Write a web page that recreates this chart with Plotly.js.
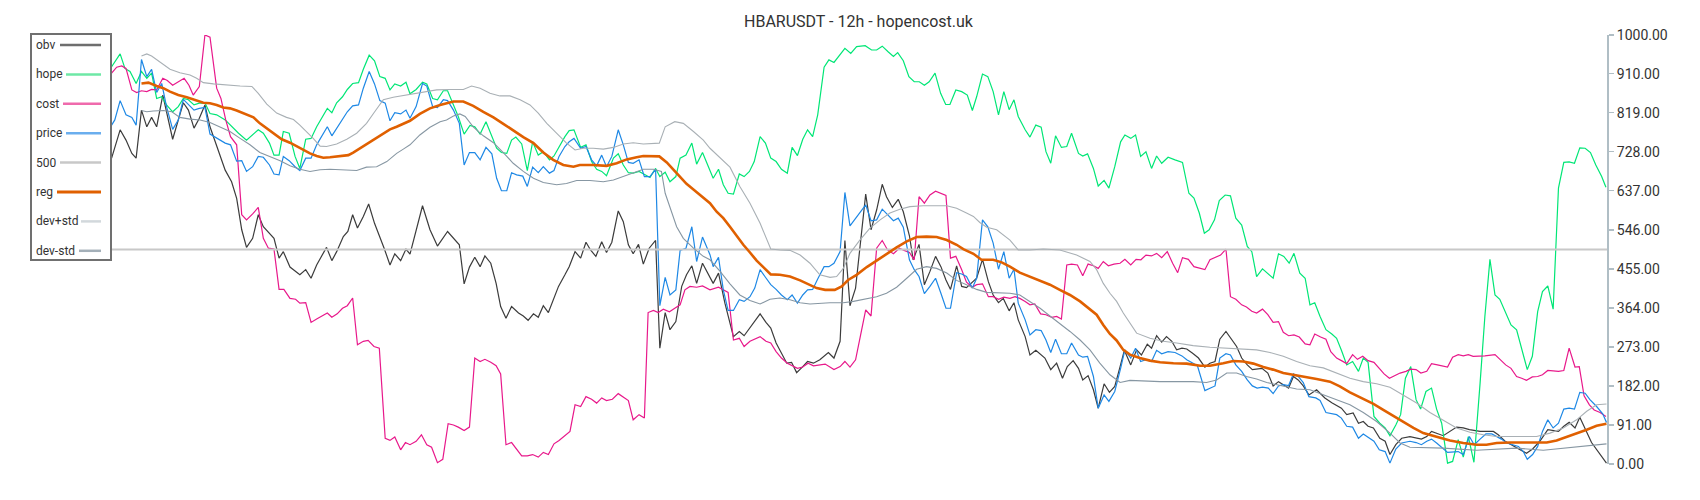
<!DOCTYPE html>
<html><head><meta charset="utf-8">
<script src="https://cdn.plot.ly/plotly-3.0.1.min.js"></script>
<style>html,body{margin:0;padding:0;background:#fff;} #chart{width:1700px;height:500px;}</style>
</head><body><div id="chart"></div>
<script>
// ---- data: [candle index, value] ----
const seriesNames = ['obv','hope','cost','price','500','reg','dev+std','dev-std'];

const obv = [[0.3,713],[0.9,736],[1.9,779],[3,755],[4.1,724],[4.9,713],[5.9,825],[6.9,786],[7.8,808],[8.75,786],[9.9,860],[11.75,757],[12.8,802],[13.75,842],[14.7,825],[15.75,783],[16.75,806],[17.8,837],[18.75,786],[20,740],[21.6,685],[22.8,658],[23.75,619],[24.7,546],[25.6,505],[26.75,526],[27.8,581],[28.75,553],[29.9,538],[30.75,526],[31.7,480],[32.5,495],[33.75,459],[35.6,441],[36.7,453],[37.7,433],[38.75,464],[40.6,505],[41.6,474],[42.5,495],[43.75,530],[44.6,542],[45.5,581],[46.4,550],[47.5,577],[48.5,606],[49.6,561],[50.6,530],[51.4,503],[52.5,464],[53.4,490],[54.5,474],[55.5,501],[56.25,489],[58.6,602],[60,546],[61.4,508],[63.3,542],[65.5,511],[66.4,420],[67.4,459],[68.4,482],[69.4,460],[70.3,485],[71.4,468],[72.4,421],[73.25,367],[74.25,340],[75.3,367],[76.6,352],[77.5,345],[78.4,335],[79.4,350],[80.3,342],[81.25,369],[82.2,353],[84.1,414],[85.3,441],[86.1,460],[87.2,495],[88.25,480],[89.25,517],[90.1,499],[91.1,484],[92.2,518],[93.1,493],[94.1,517],[95.3,590],[96.25,565],[97.2,511],[98.1,490],[99.1,512],[100,466],[101.1,503],[102.3,521],[103.1,270],[104.1,353],[105,313],[106.1,332],[107.2,414],[108.1,441],[109.1,462],[110,421],[111.1,468],[112.5,437],[113.1,421],[114.1,445],[115.3,375],[116.9,297],[118,309],[118.9,299],[121.9,350],[123,330],[123.9,317],[124.9,282],[125.9,258],[126.9,235],[127.8,237],[128.75,213],[129.9,227],[130.8,239],[131.9,235],[133.1,243],[134.7,260],[135.75,247],[136.9,286],[137.8,521],[138.75,369],[139.8,410],[141.7,629],[142.7,546],[143.75,592],[144.8,652],[145.6,623],[146.7,598],[147.8,617],[148.75,588],[149.9,532],[150.6,476],[151.7,512],[152.7,418],[153.75,449],[154.8,484],[155.8,460],[156.75,429],[157.6,407],[158.75,462],[159.7,414],[160.6,411],[162.5,433],[163.6,477],[164.7,425],[165.6,394],[166.6,376],[167.5,386],[168.6,357],[169.5,376],[170.3,336],[171.6,297],[172.5,254],[173.6,265],[175.3,247],[176.4,220],[177.5,235],[178.6,200],[179.5,227],[180.6,241],[181.6,223],[182.4,196],[183.4,206],[184.4,173],[185.3,130],[186.4,187],[187.4,167],[188.4,181],[189.25,220],[190.2,265],[191.4,231],[192.5,266],[193.4,254],[194.5,279],[195.3,270],[196.25,299],[197.2,284],[198.1,297],[199.1,286],[200,266],[201,270],[201.9,268],[203,258],[204.1,247],[205.3,226],[206.25,235],[207.2,239],[208.1,291],[209.25,309],[210.3,289],[211.25,274],[212.2,247],[213.25,231],[214.2,220],[216,223],[217.1,212],[218.1,182],[219.1,192],[220,185],[221,177],[221.9,204],[222.8,196],[223.75,182],[224.8,161],[226.25,173],[227.8,154],[229.1,143],[230.9,130],[231.9,115],[233.1,119],[234.1,95],[235,99],[235.9,88],[236.9,84],[238.1,60],[239.1,53],[240,22],[241.1,45],[242.2,60],[243.75,64],[245.9,58],[246.9,64],[247.8,76],[250,66],[252.5,86],[253.75,84],[254.9,80],[256.9,76],[259.4,76],[260.3,68],[261.6,53],[262.8,45],[264.1,37],[265.6,25],[266.75,35],[268.1,53],[269.6,80],[271.6,76],[272.6,88],[273.6,97],[274.7,84],[275.6,109],[277.8,50],[279.1,29],[280.6,2]];

const hope = [[0.3,926],[0.9,938],[1.9,956],[2.8,922],[3.75,915],[4.9,887],[5.9,915],[6.9,899],[7.8,911],[8.75,852],[9.7,856],[10.6,837],[11.75,821],[12.8,833],[13.75,852],[14.7,849],[15.75,837],[16.75,841],[17.8,842],[18.75,817],[20,814],[21.6,802],[22.8,786],[24.1,771],[25.6,755],[27.8,779],[28.75,771],[29.9,748],[30.75,720],[31.7,720],[32.5,775],[33.6,771],[34.7,717],[35.6,689],[36.7,757],[37.7,759],[38.75,786],[39.7,808],[40.75,829],[41.6,819],[42.5,842],[43.6,856],[44.5,873],[45.5,887],[46.6,889],[47.5,920],[48.6,953],[49.6,940],[50.6,903],[51.6,899],[52.5,872],[53.4,886],[54.5,881],[55.5,890],[56.25,863],[57.4,873],[58.6,890],[59.4,886],[60.5,852],[61.4,849],[62.5,870],[63.3,870],[65.3,810],[66.4,769],[67.5,789],[68.4,786],[69.4,769],[70.5,798],[71.6,765],[72.5,736],[73.4,726],[74.4,724],[75.3,755],[76.1,762],[77.2,746],[78.25,684],[79.25,751],[80.3,720],[81.25,728],[82.4,709],[83.25,718],[84.2,740],[85.3,763],[86.1,777],[87,779],[88.25,738],[89.25,744],[90.3,705],[91.25,687],[92.2,682],[93.1,672],[94.4,713],[95.3,723],[96.25,697],[97.2,679],[98.1,678],[99.2,682],[101.25,668],[102.3,689],[103.1,670],[104.1,680],[105,658],[106.1,670],[106.9,713],[108,720],[109.1,748],[110,699],[111.1,726],[112.5,685],[113.1,666],[114.1,687],[115,651],[115.9,631],[116.9,629],[118,676],[118.9,670],[119.9,682],[120.8,705],[121.9,763],[122.9,748],[123.9,713],[124.9,705],[125.9,687],[127,678],[127.9,738],[128.9,719],[129.9,757],[130.8,779],[131.75,763],[132.7,814],[133.9,925],[134.8,942],[135.75,936],[136.9,953],[137.8,969],[138.9,957],[140,973],[141.6,975],[142.8,965],[143.75,965],[144.8,974],[145.9,961],[146.9,950],[147.7,959],[148.75,940],[149.8,903],[150.8,891],[151.75,891],[152.7,883],[153.6,891],[154.7,911],[155.75,864],[156.7,838],[157.5,838],[158.6,872],[159.7,868],[160.75,860],[161.7,824],[162.5,856],[163.6,909],[164.6,903],[165.6,868],[166.6,814],[167.6,868],[168.6,826],[169.5,849],[170.3,810],[171.6,779],[172.5,762],[173.6,790],[174.6,785],[175.5,728],[176.4,701],[177.3,765],[178.4,738],[179.4,740],[180.3,771],[181.6,724],[182.4,718],[183.3,723],[184.4,689],[185.3,648],[186.4,661],[187.3,643],[188.4,693],[189.5,751],[190.3,767],[191.4,759],[192.3,767],[193.25,717],[194.25,728],[195.3,689],[196.25,718],[197.2,701],[198.4,715],[199.7,709],[201.1,703],[202.3,631],[203.25,620],[204.25,585],[205.2,538],[206.1,546],[207.1,569],[208,614],[209.1,627],[210.1,625],[211.1,573],[212.2,557],[213.25,507],[214.1,495],[215,437],[216.1,455],[217.2,442],[218.1,433],[219.1,490],[220.1,484],[221.1,468],[222,491],[223.1,445],[224.1,433],[225,371],[225.9,376],[226.9,344],[228,313],[229.1,303],[230,293],[230.9,265],[231.9,231],[233,239],[234.1,216],[235,247],[235.9,237],[237,111],[238.1,95],[239.1,84],[240,66],[241.1,91],[242,115],[242.9,200],[243.9,227],[244.9,150],[245.75,128],[246.75,169],[247.8,177],[248.75,128],[249.7,95],[250.8,2],[251.75,6],[252.8,57],[253.75,16],[254.7,64],[255.75,4],[256.9,188],[257.8,344],[258.75,477],[259.7,394],[260.6,384],[261.6,355],[262.7,324],[263.75,313],[264.8,262],[265.75,220],[266.7,251],[267.7,355],[268.6,402],[269.6,415],[270.6,361],[271.6,643],[272.6,703],[273.6,704],[274.6,701],[275.6,737],[276.6,736],[277.6,726],[278.6,697],[279.7,670],[280.5,645]];

const cost = [[0.3,911],[1.25,925],[2.2,928],[3,922],[4.1,872],[5,866],[5.9,870],[6.9,868],[7.8,873],[8.75,872],[9.9,899],[10.75,894],[11.75,883],[12.8,891],[13.9,899],[14.8,883],[15.6,860],[16.75,880],[17.8,1000],[18.75,995],[20,876],[20.8,852],[21.7,802],[22.6,763],[23.75,744],[24.7,581],[25.6,569],[26.75,583],[27.8,598],[28.75,526],[29.7,503],[30.75,501],[31.7,407],[32.6,407],[33.75,386],[34.8,384],[35.6,375],[36.7,376],[37.7,330],[38.75,338],[40.75,352],[41.6,342],[42.6,350],[43.6,363],[44.5,369],[45.5,387],[46.4,278],[47.5,286],[48.4,288],[49.5,274],[50.5,270],[51.6,60],[52.5,55],[53.4,63],[54.5,33],[55.4,50],[56.25,45],[57.4,53],[58.4,68],[59.4,45],[60.3,39],[61.4,3],[62.4,11],[63.4,94],[64.4,91],[65.3,86],[66.4,78],[67.4,86],[68.4,247],[69.4,239],[70.3,244],[71.4,237],[72.4,229],[73.25,210],[74.25,45],[75.3,50],[76.25,33],[77.2,19],[78.25,19],[79.25,22],[80.3,16],[81.25,27],[82.2,22],[83.25,47],[84.2,55],[85.3,66],[86.25,76],[87.2,138],[88.25,134],[89.25,157],[90.3,151],[91.25,142],[92.2,154],[93.1,148],[94.2,151],[95.3,164],[96.25,155],[97.2,148],[98.1,103],[99.2,115],[100.2,107],[100.9,353],[101.9,358],[102.8,353],[103.75,361],[104.9,355],[105.9,363],[106.9,371],[107.8,406],[108.75,414],[110,412],[111.1,415],[112.5,406],[114.1,412],[115,406],[115.9,400],[116.9,289],[118,293],[118.9,274],[120,286],[121.9,297],[123,286],[123.9,282],[124.9,262],[125.9,247],[127,235],[128.9,223],[129.9,226],[130.9,235],[131.9,229],[134.1,233],[135.75,220],[136.9,227],[137.8,239],[138.75,226],[139.8,243],[140.75,301],[141.7,359],[142.7,345],[143.75,503],[144.8,521],[145.8,499],[146.9,490],[148,503],[148.9,498],[149.9,493],[150.8,476],[151.7,623],[152.7,608],[153.75,627],[154.8,636],[155.8,631],[156.75,626],[157.6,480],[158.6,484],[159.7,453],[160.6,424],[161.7,412],[162.5,418],[163.6,420],[164.7,390],[165.6,390],[166.6,384],[167.6,389],[168.75,386],[169.7,390],[170.6,386],[171.6,379],[172.5,371],[173.4,373],[174.5,350],[175.5,348],[176.6,342],[177.5,344],[178.4,338],[179.4,464],[180.3,466],[181.4,464],[182.4,439],[183.4,466],[184.4,462],[185.3,456],[186.25,472],[187.2,462],[188.25,466],[189.4,468],[190.3,477],[191.4,464],[192.4,477],[193.3,476],[194.25,487],[195.3,485],[196.25,491],[197.2,481],[198.25,495],[199.25,468],[200.2,446],[201.1,481],[202.2,477],[203.25,460],[204.25,456],[205.3,453],[206.25,476],[207.3,482],[208.25,487],[209.25,501],[210.1,390],[211.1,384],[212.2,371],[213.1,366],[214.1,356],[215,352],[216.1,361],[217.1,348],[218.1,330],[219.1,332],[220,307],[221,299],[222,301],[223,296],[224.1,280],[225,278],[225.9,303],[227,296],[228,291],[228.9,262],[230,247],[230.9,241],[231.9,234],[233,255],[233.9,244],[234.9,251],[235.9,241],[237,237],[238,223],[238.9,210],[239.9,200],[240.9,206],[241.9,212],[243,216],[243.9,221],[244.9,220],[245.8,212],[246.9,216],[247.8,234],[248.9,231],[250.8,226],[251.75,249],[252.8,255],[253.75,252],[254.7,255],[255.6,251],[257.8,252],[259.7,255],[260.6,244],[261.7,231],[262.7,223],[263.75,204],[264.7,200],[265.6,195],[266.7,203],[267.7,204],[268.6,208],[269.6,218],[271.6,216],[272.6,218],[273.6,270],[274.7,226],[275.5,227],[276.4,159],[277.4,138],[278.3,126],[279.4,120],[280.5,111]];

const price = [[0.3,790],[0.9,802],[1.9,847],[3,814],[4.1,808],[4.9,790],[5.9,943],[6.9,903],[7.8,920],[8.75,866],[9.7,887],[10.6,833],[11.75,780],[12.8,802],[13.75,850],[14.7,839],[15.75,825],[16.75,829],[17.8,831],[18.75,769],[20,759],[21.6,748],[22.6,744],[23.75,706],[24.7,707],[25.6,682],[26.75,693],[27.8,717],[28.75,715],[29.9,697],[30.75,676],[31.7,674],[32.5,717],[33.6,707],[34.7,693],[35.6,684],[36.7,713],[37.7,713],[38.75,744],[40.75,786],[41.6,765],[42.5,783],[43.6,806],[44.5,821],[45.5,835],[46.6,837],[47.5,876],[48.6,915],[49.6,886],[50.6,847],[51.6,841],[52.5,800],[53.4,819],[54.5,816],[55.5,825],[56.25,806],[57.4,833],[58.6,887],[59.4,881],[60.5,833],[61.4,831],[62.5,849],[63.3,847],[64.4,825],[65.5,794],[66.4,697],[67.4,726],[68.4,726],[69.4,709],[70.5,738],[71.6,723],[72.5,666],[73.4,637],[74.4,637],[75.3,679],[76.25,674],[77.4,671],[78.25,647],[79.25,692],[80.3,679],[81.25,693],[82.4,678],[83.25,684],[84.2,717],[85.3,740],[86.1,751],[87,759],[88.25,736],[89.25,740],[90.3,709],[91.25,695],[92.2,720],[93.1,693],[94.1,717],[95.3,779],[96.25,744],[97.2,703],[98.1,701],[99.2,709],[100.2,670],[101.25,670],[102.3,687],[103.1,369],[104.1,435],[105,394],[106.1,406],[106.9,498],[108,503],[109.1,553],[110,472],[111.1,529],[112.5,488],[113.1,460],[114.1,482],[115,406],[115.9,358],[116.9,358],[118,383],[118.9,379],[120,390],[120.9,410],[121.9,453],[122.8,437],[123.9,418],[124.9,407],[125.9,394],[127,383],[127.9,394],[128.9,375],[129.9,394],[130.8,406],[131.75,407],[132.7,431],[133.9,460],[134.8,460],[135.75,468],[136.9,495],[137.8,633],[138.75,555],[139.8,573],[140.75,588],[141.7,604],[142.7,567],[143.75,569],[144.8,594],[145.8,581],[146.9,567],[147.8,573],[148.75,552],[149.9,476],[150.8,453],[151.7,437],[152.7,397],[153.75,414],[154.8,433],[155.8,398],[156.75,363],[157.6,363],[158.75,446],[159.7,443],[160.6,437],[161.7,410],[162.5,433],[163.6,569],[164.6,553],[165.6,515],[166.6,454],[167.6,495],[168.6,433],[169.5,454],[170.3,375],[171.6,336],[172.5,301],[173.6,313],[174.6,311],[175.5,289],[176.4,260],[177.3,291],[178.4,257],[179.4,257],[180.3,282],[181.6,254],[182.4,249],[183.3,251],[184.4,204],[185.3,130],[186.4,161],[187.3,146],[188.4,169],[189.5,223],[190.3,266],[191.4,247],[192.3,270],[193.25,239],[194.25,243],[195.3,239],[196.25,265],[197.2,257],[198.4,262],[199.7,260],[201,252],[201.9,243],[203,235],[203.9,229],[205.3,171],[206.25,177],[207.2,182],[208.1,247],[209.25,257],[210.1,254],[211.1,231],[212.2,216],[213.25,196],[214.2,182],[215.1,177],[216.1,179],[217.2,177],[218.1,164],[219.1,182],[220,185],[221,183],[221.9,210],[222.8,204],[223.75,190],[224.8,157],[226.1,154],[226.9,148],[228,120],[229.1,117],[230,115],[230.9,107],[231.9,88],[233,86],[234.1,60],[235,70],[235.9,63],[237,53],[238,33],[239.1,29],[240,2],[241.1,35],[242.2,49],[243.75,53],[244.9,50],[245.9,45],[246.9,53],[247.8,58],[248.75,49],[250,35],[250.8,27],[252.8,29],[253.75,22],[254.9,64],[255.8,45],[256.9,58],[258,70],[259.1,70],[260,64],[260.9,58],[261.9,49],[263,45],[264.1,41],[265,29],[265.75,11],[266.75,22],[267.7,41],[268.6,76],[269.6,103],[270.6,84],[271.6,95],[272.6,128],[273.6,130],[274.6,128],[275.6,167],[276.6,165],[277.5,150],[278.75,134],[279.9,117],[280.6,97]];

const level500 = [[0,500],[280.7,500]];

const reg = [[5.9,887],[7.2,889],[8.75,881],[10,876],[11.25,868],[12.8,860],[14.4,855],[15.9,849],[17.5,842],[18.75,841],[20,837],[21.25,831],[22.5,829],[23.75,824],[25,817],[26.9,808],[28.1,794],[29.7,780],[30.9,769],[32.2,757],[33.75,749],[35,741],[36.25,732],[37.5,724],[38.75,718],[40,714],[41.25,715],[43.1,717],[44.7,720],[45.6,726],[46.9,736],[48.4,748],[49.7,759],[51.25,771],[52.5,780],[53.75,786],[55,793],[56.25,800],[58.1,816],[60,829],[61.9,837],[64.4,845],[66.25,845],[68.1,835],[70,821],[71.9,808],[73.75,793],[75.6,777],[77.5,762],[79.4,748],[81.25,726],[83.1,709],[85,697],[86.9,693],[88.1,697],[90.6,697],[93.1,695],[95,701],[96.9,710],[98.75,715],[100,718],[103,717],[104.4,703],[105.6,687],[106.9,670],[108.1,653],[109.4,640],[110.6,627],[112.5,608],[113.75,588],[115,573],[116.25,553],[117.5,532],[118.75,511],[120,493],[121.25,474],[122.5,459],[123.9,442],[125.6,441],[127.5,437],[129.4,428],[131.25,418],[132.5,410],[134.1,406],[135.9,406],[137.2,414],[138.4,429],[140,441],[141.9,459],[143.75,474],[145.6,490],[147.5,505],[149.4,519],[151.25,529],[153.1,530],[155,529],[156.9,522],[158.75,511],[160,501],[161.9,490],[163.4,476],[165.6,476],[167.2,470],[168.75,460],[170.6,446],[172.5,437],[174.4,428],[176.25,418],[178.1,406],[180,394],[181.9,379],[183.75,361],[185,348],[186.25,324],[187.5,303],[188.75,288],[190,266],[191.25,255],[193.1,247],[195,241],[196.9,237],[199.4,235],[201.9,234],[204.4,229],[206.25,229],[208.75,235],[210.6,240],[212.5,239],[214.4,234],[216.25,226],[218.1,220],[220,212],[221.9,208],[223.75,204],[225,202],[226.25,198],[228.75,192],[230.6,181],[232.5,167],[235,151],[236.9,140],[238.75,126],[240.6,112],[242.5,97],[244.4,84],[246.25,72],[248.75,63],[251.25,55],[253.75,49],[256.25,45],[258.1,45],[260,49],[262.5,50],[265,50],[267.5,49],[269.4,50],[271.25,55],[273.1,63],[275,70],[276.9,80],[278.75,89],[280.6,94]];

const devPlus = [[5.9,951],[6.9,956],[7.8,951],[8.75,942],[10,930],[11.25,920],[13.1,912],[15,907],[16.25,899],[17.5,889],[19.4,886],[21.9,883],[24.4,881],[26.6,880],[27.8,864],[29.4,839],[31.25,818],[33.1,808],[34.4,803],[35.6,790],[36.9,775],[38.1,759],[39.4,741],[40.6,740],[42.5,746],[44.4,757],[46.25,771],[48.1,794],[49.4,817],[51.25,849],[53.1,855],[55,859],[56.25,860],[58.75,866],[61.25,872],[63.75,873],[66.25,873],[67.8,881],[69.4,876],[71.25,864],[73.1,858],[75,858],[76.9,849],[78.75,837],[80.3,818],[81.9,794],[83.75,772],[85.6,748],[87.2,732],[88.75,736],[90.6,736],[92.5,734],[94.4,738],[96.25,746],[98.1,749],[100,746],[103,748],[104.1,786],[105.9,798],[107.5,794],[109.4,775],[111.25,755],[112.5,736],[114.4,713],[116.25,692],[118.1,647],[120,608],[121.9,561],[123.1,526],[123.9,501],[125.6,499],[127.5,498],[129.4,487],[131.25,468],[133.1,441],[135,435],[136.25,437],[137.5,456],[138.75,491],[140.6,522],[142.5,550],[144.4,569],[146.25,585],[148.1,594],[150,600],[152.5,602],[156.9,602],[158.75,596],[160.6,585],[161.9,577],[163.1,563],[164.4,552],[166.25,546],[168.75,522],[170.3,499],[172.5,499],[175,501],[178.1,499],[181.25,487],[183.75,472],[185,453],[186.25,421],[187.5,398],[188.75,379],[190,352],[191.25,328],[192.5,305],[195,293],[197.5,286],[200,282],[203.1,276],[206.25,272],[209.4,270],[212.5,268],[215,266],[217.5,260],[220,251],[222.5,239],[225,229],[227.5,224],[230,212],[232.5,200],[235,192],[237.5,187],[240,179],[242.5,161],[245,142],[247.5,120],[250,102],[252.5,84],[255,74],[257.5,68],[260,64],[262.5,64],[265,63],[267.5,64],[270,72],[272.5,84],[275,103],[276.9,123],[278.75,138],[280.6,140]];

const devMinus = [[5.9,824],[6.9,821],[8.1,823],[10,824],[11.6,821],[13.1,808],[15,804],[16.9,802],[18.75,796],[20.6,786],[22.5,775],[24.4,759],[26.25,744],[28.1,726],[30,717],[31.9,707],[33.75,695],[35.6,687],[37.5,682],[39.4,686],[41.25,687],[43.75,686],[46.25,684],[48.1,692],[50,693],[51.9,705],[53.75,724],[55,734],[56.25,744],[58.1,767],[60,785],[61.9,798],[63.1,802],[64.4,811],[65.6,816],[66.6,810],[68.1,786],[70,765],[71.9,749],[73.75,726],[75.6,701],[77.5,682],[79.4,666],[81.25,656],[83.75,651],[85.6,654],[87.5,661],[90,661],[92.5,658],[94.4,662],[96.25,670],[98.1,679],[100,687],[101.9,687],[103.4,682],[104.1,631],[105,600],[106.25,553],[107.5,526],[109.4,503],[111.25,484],[112.5,476],[114.4,449],[116.25,420],[118.1,394],[120,381],[121.9,373],[123.75,384],[125.6,387],[127.5,383],[129.4,376],[131.25,373],[135,376],[137.5,376],[139.4,379],[141.25,384],[143.75,390],[145.6,398],[147.5,412],[149.4,433],[151.25,454],[153.1,460],[155,456],[156.9,445],[158.75,428],[160.6,418],[162.5,407],[164.4,400],[166.9,398],[168.75,398],[170.6,394],[172.5,379],[174.4,363],[176.25,345],[178.1,328],[180,309],[181.9,289],[183.75,266],[185.6,235],[187.5,208],[189.4,190],[191.25,195],[196.9,192],[203.1,192],[205.6,190],[207.5,196],[209.4,212],[211.25,212],[213.1,204],[215,198],[216.9,190],[218.75,185],[220.6,179],[222.5,175],[225,173],[227.5,161],[230,150],[232.5,138],[235,120],[237.5,99],[240,72],[241.9,49],[243.75,39],[250,37],[256.25,32],[261.25,35],[263.75,37],[268.75,32],[274.4,39],[280.6,47]];

const yTickVals = [0,91,182,273,364,455,546,637,728,819,910,1000];

// ---- styles ----
const lineColors  = ['#3c3c3c','#00e676','#e8198b','#1e88e5','#c8c8c8','#e06000','#a9b0b5','#8797a3'];
const legendColors= ['#6e6e6e','#6ee8a6','#ef6aac','#6aaeee','#c8c8c8','#e06000','#d2d8dc','#a3afb8'];
const lineWidths  = [1.2,1.2,1.2,1.2,2,2.6,1.1,1.1];
const allSeries = [obv, hope, cost, price, level500, reg, devPlus, devMinus];

const traces = allSeries.map((s,i)=>({
  type:'scatter', mode:'lines', name: seriesNames[i],
  x: s.map(p=>p[0]), y: s.map(p=>p[1]),
  line:{color: lineColors[i], width: lineWidths[i]},
  hoverinfo:'skip', showlegend:false
}));

const W=1700, H=500, L=110, R=93, T=35, B=36;
const plotW = W-L-R, plotH = H-T-B;
const xp = px => (px-L)/plotW;
const yp = py => (H-B-py)/plotH;

const legY0 = 45, legStep = 29.4;
const legLineStart = [60,66,63,66,60,57,81,79];
const shapes = [{
  type:'rect', xref:'paper', yref:'paper', layer:'above',
  x0:xp(31), x1:xp(111), y0:yp(260), y1:yp(34),
  line:{color:'#707070', width:2}, fillcolor:'#ffffff'
}];
const annotations = [];
seriesNames.forEach((n,i)=>{
  const y = legY0 + i*legStep;
  shapes.push({type:'line', xref:'paper', yref:'paper', layer:'above',
    x0:xp(legLineStart[i]), x1:xp(101), y0:yp(y), y1:yp(y),
    line:{color:legendColors[i], width: i===5?3:2.5}});
  annotations.push({xref:'paper', yref:'paper', x:xp(34), y:yp(y), xanchor:'left', yanchor:'middle',
    text:n, showarrow:false, font:{family:'Roboto', size:12, color:'#333'}});
});

const layout = {
  width:W, height:H, margin:{l:L, r:R, t:T, b:B},
  paper_bgcolor:'#fff', plot_bgcolor:'#fff',
  title:{text:'HBARUSDT - 12h - hopencost.uk', x:0.5, xanchor:'center', xref:'paper',
         y:1-21/H, yref:'container', yanchor:'middle',
         font:{family:'Roboto', size:16, color:'#333'}},
  xaxis:{range:[0,280.7], visible:false, fixedrange:true},
  yaxis:{range:[0,1000], side:'right', showline:true, linecolor:'#b0bec5', linewidth:2,
         ticks:'outside', ticklen:5, tickwidth:1.5, tickcolor:'#b0bec5',
         tickmode:'array', tickvals:yTickVals, tickformat:'.2f',
         tickfont:{family:'Roboto', size:14, color:'#333'},
         showgrid:false, zeroline:false, fixedrange:true},
  shapes, annotations, showlegend:false
};
Plotly.newPlot('chart', traces, layout, {displayModeBar:false, staticPlot:true});
</script></body></html>
